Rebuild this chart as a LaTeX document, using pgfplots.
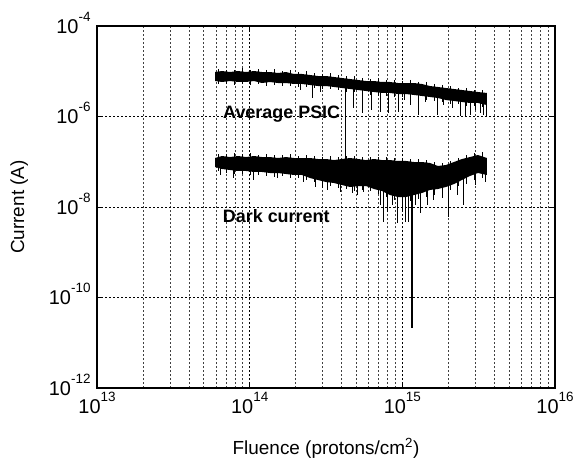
\documentclass[border=0pt]{standalone}
\usepackage{fontspec}
\setmainfont{Liberation Sans}
\usepackage{pgfplots}
\pgfplotsset{compat=1.18}

% power-of-ten tick label with a hyphen minus, set in the text font
\newcommand{\tl}[1]{10\raisebox{0.6em}{\fontsize{13.5}{13.5}\selectfont #1}}

\begin{document}
\begin{tikzpicture}
\begin{loglogaxis}[
    width=458bp, height=362bp, scale only axis,
    xmin=1e13, xmax=1e16, ymin=1e-12, ymax=1e-4,
    xtick={1e13,1e14,1e15,1e16},
    xticklabels={\tl{13},\tl{14},\tl{15},\tl{16}},
    minor xtick={2e13,3e13,4e13,5e13,6e13,7e13,8e13,9e13,
                 2e14,3e14,4e14,5e14,6e14,7e14,8e14,9e14,
                 2e15,3e15,4e15,5e15,6e15,7e15,8e15,9e15},
    ytick={1e-12,1e-10,1e-8,1e-6,1e-4},
    yticklabels={\tl{-12},\tl{-10},\tl{-8},\tl{-6},\tl{-4}},
    minor ytick={},
    grid=both, yminorgrids=false,
    major grid style={black, line width=0.6bp, dash pattern=on 2.2bp off 1.8bp},
    minor grid style={black!75, line width=0.6bp, dash pattern=on 2.2bp off 1.8bp},
    axis line style={line width=1.4bp},
    tick style={black, line width=0.8bp},
    major tick length=5bp, minor tick length=0bp,
    ticklabel style={font=\fontsize{20}{22}\selectfont},
    xticklabel style={yshift=-1bp},
    yticklabel style={anchor=base east, yshift=-7bp, xshift=-3bp},
    xlabel={Fluence (protons/cm\textsuperscript{2})},
    ylabel={Current (A)},
    label style={font=\fontsize{19}{22}\selectfont},
    xlabel style={at={(axis description cs:0.5,-0.1823)}, anchor=base},
    ylabel style={at={(axis description cs:-0.1594,0.5)}, anchor=base},
    unbounded coords=jump,
]

% Average PSIC: core of the noise band (upper edge, then lower edge)
\addplot[draw=none, fill=black] coordinates {
(5.93e13,9.62e-6) (6.59e13,1.013e-5) (7.43e13,9.62e-6) (8.38e13,1.013e-5)
(9.46e13,9.62e-6) (1.067e14,1.013e-5) (1.204e14,9.62e-6) (1.358e14,9.62e-6)
(1.532e14,9.15e-6) (1.729e14,9.62e-6) (1.951e14,8.70e-6) (2.200e14,8.70e-6)
(2.483e14,8.26e-6) (2.801e14,7.85e-6) (3.160e14,7.85e-6) (3.566e14,7.46e-6)
(4.023e14,7.09e-6) (4.538e14,6.74e-6) (5.120e14,6.41e-6) (5.777e14,6.09e-6)
(6.517e14,6.09e-6) (7.354e14,5.79e-6) (8.296e14,5.79e-6) (9.359e14,5.50e-6)
(1.056e15,5.50e-6) (1.191e15,5.50e-6) (1.344e15,5.23e-6) (1.516e15,4.72e-6)
(1.711e15,4.49e-6) (1.930e15,4.26e-6) (2.178e15,4.05e-6) (2.457e15,3.85e-6)
(2.772e15,3.66e-6) (3.127e15,3.48e-6) (3.581e15,3.31e-6)
(3.581e15,1.79e-6) (3.127e15,1.99e-6) (2.772e15,1.99e-6) (2.457e15,2.09e-6)
(2.178e15,2.20e-6) (1.930e15,2.31e-6) (1.711e15,2.56e-6) (1.516e15,2.70e-6)
(1.344e15,2.84e-6) (1.191e15,2.99e-6) (1.056e15,3.14e-6) (9.359e14,3.14e-6)
(8.296e14,3.31e-6) (7.354e14,3.31e-6) (6.517e14,3.48e-6) (5.777e14,3.66e-6)
(5.120e14,3.85e-6) (4.538e14,4.05e-6) (4.023e14,4.26e-6) (3.566e14,4.49e-6)
(3.160e14,4.72e-6) (2.801e14,4.72e-6) (2.483e14,4.97e-6) (2.200e14,5.23e-6)
(1.951e14,5.23e-6) (1.729e14,5.50e-6) (1.532e14,5.50e-6) (1.358e14,5.79e-6)
(1.204e14,5.50e-6) (1.067e14,6.09e-6) (9.46e13,5.79e-6) (8.38e13,5.79e-6)
(7.43e13,6.09e-6) (6.59e13,5.79e-6) (5.93e13,6.09e-6)
} -- cycle;

% Average PSIC: scatter of single readings about the band
\addplot[black, line width=0.5bp] coordinates {
(6.20e13,1.12e-5) (6.20e13,5.23e-6) (6.20e13,nan)
(7.00e13,1.066e-5) (7.00e13,5.23e-6) (7.00e13,nan)
(7.90e13,1.066e-5) (7.90e13,4.97e-6) (7.90e13,nan)
(8.91e13,1.18e-5) (8.91e13,5.23e-6) (8.91e13,nan)
(1.005e14,1.066e-5) (1.005e14,4.97e-6) (1.005e14,nan)
(1.134e14,1.12e-5) (1.134e14,5.23e-6) (1.134e14,nan)
(1.279e14,1.066e-5) (1.279e14,4.72e-6) (1.279e14,nan)
(1.443e14,1.12e-5) (1.443e14,4.97e-6) (1.443e14,nan)
(1.628e14,1.013e-5) (1.628e14,4.72e-6) (1.628e14,nan)
(1.836e14,1.066e-5) (1.836e14,4.72e-6) (1.836e14,nan)
(2.072e14,9.62e-6) (2.072e14,4.49e-6) (2.072e14,nan)
(2.337e14,1.013e-5) (2.337e14,4.49e-6) (2.337e14,nan)
(2.637e14,9.15e-6) (2.637e14,4.26e-6) (2.637e14,nan)
(2.975e14,8.70e-6) (2.975e14,4.05e-6) (2.975e14,nan)
(3.357e14,9.15e-6) (3.357e14,4.05e-6) (3.357e14,nan)
(3.787e14,8.26e-6) (3.787e14,3.85e-6) (3.787e14,nan)
(4.272e14,7.85e-6) (4.272e14,3.48e-6) (4.272e14,nan)
(4.820e14,7.85e-6) (4.820e14,3.48e-6) (4.820e14,nan)
(5.438e14,7.09e-6) (5.438e14,3.31e-6) (5.438e14,nan)
(6.135e14,6.74e-6) (6.135e14,2.99e-6) (6.135e14,nan)
(6.922e14,7.09e-6) (6.922e14,2.84e-6) (6.922e14,nan)
(7.809e14,6.41e-6) (7.809e14,2.84e-6) (7.809e14,nan)
(8.810e14,6.41e-6) (8.810e14,2.70e-6) (8.810e14,nan)
(9.94e14,6.09e-6) (9.94e14,2.70e-6) (9.94e14,nan)
(1.121e15,6.41e-6) (1.121e15,2.56e-6) (1.121e15,nan)
(1.265e15,5.79e-6) (1.265e15,2.44e-6) (1.265e15,nan)
(1.427e15,5.79e-6) (1.427e15,2.31e-6) (1.427e15,nan)
(1.610e15,5.23e-6) (1.610e15,2.20e-6) (1.610e15,nan)
(1.817e15,4.97e-6) (1.817e15,2.09e-6) (1.817e15,nan)
(2.050e15,4.72e-6) (2.050e15,1.89e-6) (2.050e15,nan)
(2.313e15,4.26e-6) (2.313e15,1.89e-6) (2.313e15,nan)
(2.609e15,4.26e-6) (2.609e15,1.71e-6) (2.609e15,nan)
(2.944e15,3.85e-6) (2.944e15,1.71e-6) (2.944e15,nan)
(3.321e15,3.85e-6) (3.321e15,1.62e-6)
};

% Average PSIC: downward dropouts
\addplot[black, line width=0.7bp] coordinates {
(2.135e14,6.5e-6) (2.135e14,3.85e-6) (2.135e14,nan)
(2.559e14,6.5e-6) (2.559e14,2.56e-6) (2.559e14,nan)
(2.887e14,6.5e-6) (2.887e14,3.48e-6) (2.887e14,nan)
(4.253e14,6.0e-6) (4.253e14,1.04e-7) (4.253e14,nan)
(4.748e14,5.5e-6) (4.748e14,1.54e-6) (4.748e14,nan)
(5.438e14,5.5e-6) (5.438e14,1.20e-6) (5.438e14,nan)
(6.229e14,5.5e-6) (6.229e14,1.39e-6) (6.229e14,nan)
(7.135e14,5.0e-6) (7.135e14,1.26e-6) (7.135e14,nan)
(8.049e14,5.0e-6) (8.049e14,1.20e-6) (8.049e14,nan)
(9.359e14,5.0e-6) (9.359e14,1.26e-6) (9.359e14,nan)
(1.024e15,4.5e-6) (1.024e15,2.31e-6) (1.024e15,nan)
(1.121e15,4.5e-6) (1.121e15,1.79e-6) (1.121e15,nan)
(1.265e15,4.5e-6) (1.265e15,1.08e-6) (1.265e15,nan)
(1.406e15,4.5e-6) (1.406e15,2.09e-6) (1.406e15,nan)
(1.685e15,4.0e-6) (1.685e15,1.08e-6) (1.685e15,nan)
(1.845e15,4.0e-6) (1.845e15,1.79e-6) (1.845e15,nan)
(2.113e15,3.8e-6) (2.113e15,1.54e-6) (2.113e15,nan)
(2.384e15,3.6e-6) (2.384e15,1.03e-6) (2.384e15,nan)
(2.570e15,3.6e-6) (2.570e15,1.03e-6) (2.570e15,nan)
(2.772e15,3.5e-6) (2.772e15,1.08e-6) (2.772e15,nan)
(2.988e15,3.4e-6) (2.988e15,1.39e-6) (2.988e15,nan)
(3.223e15,3.3e-6) (3.223e15,1.20e-6) (3.223e15,nan)
(3.372e15,3.2e-6) (3.372e15,1.08e-6) (3.372e15,nan)
(3.528e15,3.1e-6) (3.528e15,1.03e-6)
};

% Dark current: core of the noise band
\addplot[draw=none, fill=black] coordinates {
(5.93e13,1.21e-7) (6.59e13,1.34e-7) (7.43e13,1.27e-7) (8.38e13,1.34e-7)
(9.46e13,1.27e-7) (1.067e14,1.34e-7) (1.204e14,1.27e-7) (1.358e14,1.27e-7)
(1.532e14,1.21e-7) (1.729e14,1.27e-7) (1.951e14,1.21e-7) (2.200e14,1.21e-7)
(2.483e14,1.21e-7) (2.801e14,1.15e-7) (3.160e14,1.15e-7) (3.566e14,1.09e-7)
(4.023e14,1.15e-7) (4.538e14,1.21e-7) (5.120e14,1.15e-7) (5.777e14,1.09e-7)
(6.517e14,1.15e-7) (7.354e14,1.09e-7) (8.296e14,1.09e-7) (9.359e14,1.04e-7)
(1.056e15,1.04e-7) (1.191e15,9.87e-8) (1.344e15,9.87e-8) (1.516e15,9.38e-8)
(1.711e15,8.06e-8) (1.930e15,8.48e-8) (2.178e15,9.87e-8) (2.457e15,1.15e-7)
(2.772e15,1.27e-7) (3.127e15,1.41e-7) (3.581e15,1.21e-7)
(3.581e15,5.10e-8) (3.127e15,5.64e-8) (2.772e15,4.84e-8) (2.457e15,3.95e-8)
(2.178e15,3.22e-8) (1.930e15,2.77e-8) (1.711e15,2.50e-8) (1.516e15,2.38e-8)
(1.344e15,2.04e-8) (1.191e15,1.84e-8) (1.056e15,1.66e-8) (9.359e14,1.66e-8)
(8.296e14,1.84e-8) (7.354e14,2.26e-8) (6.517e14,2.50e-8) (5.777e14,2.91e-8)
(5.120e14,2.91e-8) (4.538e14,2.77e-8) (4.023e14,3.06e-8) (3.566e14,3.39e-8)
(3.160e14,3.57e-8) (2.801e14,3.95e-8) (2.483e14,4.37e-8) (2.200e14,5.10e-8)
(1.951e14,5.10e-8) (1.729e14,5.36e-8) (1.532e14,5.64e-8) (1.358e14,5.64e-8)
(1.204e14,5.94e-8) (1.067e14,5.94e-8) (9.46e13,6.25e-8) (8.38e13,6.25e-8)
(7.43e13,6.57e-8) (6.59e13,6.92e-8) (5.93e13,7.66e-8)
} -- cycle;

% Dark current: scatter of single readings about the band
\addplot[black, line width=0.5bp] coordinates {
(6.20e13,1.48e-7) (6.20e13,6.25e-8) (6.20e13,nan)
(7.00e13,1.48e-7) (7.00e13,5.64e-8) (7.00e13,nan)
(7.90e13,1.56e-7) (7.90e13,5.36e-8) (7.90e13,nan)
(8.91e13,1.48e-7) (8.91e13,5.36e-8) (8.91e13,nan)
(1.005e14,1.56e-7) (1.005e14,5.10e-8) (1.005e14,nan)
(1.134e14,1.41e-7) (1.134e14,5.10e-8) (1.134e14,nan)
(1.279e14,1.48e-7) (1.279e14,4.84e-8) (1.279e14,nan)
(1.443e14,1.41e-7) (1.443e14,4.60e-8) (1.443e14,nan)
(1.628e14,1.41e-7) (1.628e14,4.84e-8) (1.628e14,nan)
(1.836e14,1.48e-7) (1.836e14,4.37e-8) (1.836e14,nan)
(2.072e14,1.34e-7) (2.072e14,4.37e-8) (2.072e14,nan)
(2.337e14,1.41e-7) (2.337e14,3.95e-8) (2.337e14,nan)
(2.637e14,1.34e-7) (2.637e14,3.57e-8) (2.637e14,nan)
(2.975e14,1.27e-7) (2.975e14,3.06e-8) (2.975e14,nan)
(3.357e14,1.34e-7) (3.357e14,2.91e-8) (3.357e14,nan)
(3.787e14,1.27e-7) (3.787e14,2.63e-8) (3.787e14,nan)
(4.272e14,1.34e-7) (4.272e14,2.50e-8) (4.272e14,nan)
(4.820e14,1.34e-7) (4.820e14,2.26e-8) (4.820e14,nan)
(5.438e14,1.27e-7) (5.438e14,2.38e-8) (5.438e14,nan)
(6.135e14,1.27e-7) (6.135e14,2.26e-8) (6.135e14,nan)
(6.922e14,1.27e-7) (6.922e14,1.94e-8) (6.922e14,nan)
(7.809e14,1.27e-7) (7.809e14,1.66e-8) (7.809e14,nan)
(8.810e14,1.21e-7) (8.810e14,1.43e-8) (8.810e14,nan)
(9.94e14,1.21e-7) (9.94e14,1.29e-8) (9.94e14,nan)
(1.121e15,1.15e-7) (1.121e15,1.36e-8) (1.121e15,nan)
(1.265e15,1.15e-7) (1.265e15,1.50e-8) (1.265e15,nan)
(1.427e15,1.09e-7) (1.427e15,1.66e-8) (1.427e15,nan)
(1.610e15,9.87e-8) (1.610e15,1.84e-8) (1.610e15,nan)
(1.817e15,9.38e-8) (1.817e15,2.04e-8) (1.817e15,nan)
(2.050e15,1.04e-7) (2.050e15,2.38e-8) (2.050e15,nan)
(2.313e15,1.21e-7) (2.313e15,2.91e-8) (2.313e15,nan)
(2.609e15,1.41e-7) (2.609e15,3.22e-8) (2.609e15,nan)
(2.944e15,1.56e-7) (2.944e15,3.95e-8) (2.944e15,nan)
(3.321e15,1.64e-7) (3.321e15,4.37e-8)
};

% Dark current: downward dropouts
\addplot[black, line width=0.7bp] coordinates {
(6.39e13,8e-8) (6.39e13,5.10e-8) (6.39e13,nan)
(7.77e13,8e-8) (7.77e13,4.37e-8) (7.77e13,nan)
(1.051e14,8e-8) (1.051e14,3.95e-8) (1.051e14,nan)
(1.510e14,8e-8) (1.510e14,4.37e-8) (1.510e14,nan)
(2.234e14,8e-8) (2.234e14,3.57e-8) (2.234e14,nan)
(2.677e14,8e-8) (2.677e14,2.77e-8) (2.677e14,nan)
(2.975e14,8e-8) (2.975e14,2.63e-8) (2.975e14,nan)
(3.208e14,8e-8) (3.208e14,2.38e-8) (3.208e14,nan)
(3.903e14,8e-8) (3.903e14,2.15e-8) (3.903e14,nan)
(4.677e14,8e-8) (4.677e14,2.04e-8) (4.677e14,nan)
(5.043e14,8e-8) (5.043e14,1.84e-8) (5.043e14,nan)
(5.521e14,8e-8) (5.521e14,2.15e-8) (5.521e14,nan)
(7.135e14,8e-8) (7.135e14,1.11e-8) (7.135e14,nan)
(7.464e14,8e-8) (7.464e14,4.66e-9) (7.464e14,nan)
(7.928e14,8e-8) (7.928e14,7.76e-9) (7.928e14,nan)
(8.549e14,8e-8) (8.549e14,1.11e-8) (8.549e14,nan)
(9.219e14,8e-8) (9.219e14,4.43e-9) (9.219e14,nan)
(9.94e14,8e-8) (9.94e14,8.59e-9) (9.94e14,nan)
(1.040e15,8e-8) (1.040e15,4.66e-9) (1.040e15,nan)
(1.088e15,8e-8) (1.088e15,4.66e-9) (1.088e15,nan)
(1.209e15,8e-8) (1.209e15,1.11e-8) (1.209e15,nan)
(1.304e15,8e-8) (1.304e15,7.37e-9) (1.304e15,nan)
(1.449e15,8e-8) (1.449e15,1.11e-8) (1.449e15,nan)
(1.586e15,8e-8) (1.586e15,1.43e-8) (1.586e15,nan)
(1.817e15,8e-8) (1.817e15,1.58e-8) (1.817e15,nan)
(1.989e15,8e-8) (1.989e15,6.01e-9) (1.989e15,nan)
(2.278e15,8e-8) (2.278e15,1.84e-8) (2.278e15,nan)
(2.494e15,8e-8) (2.494e15,1.11e-8) (2.494e15,nan)
(2.988e15,8e-8) (2.988e15,3.06e-8) (2.988e15,nan)
(3.474e15,8e-8) (3.474e15,3.57e-8)
};
% the deepest dropout
\addplot[black, line width=1.1bp] coordinates {(1.156e15,8e-8) (1.156e15,2.12e-11)};

\node[anchor=base west, inner sep=0, font=\fontsize{18}{22}\selectfont\bfseries]
    at (axis cs:6.69e13,9.26e-7) {Average PSIC};
\node[anchor=base west, inner sep=0, font=\fontsize{18}{22}\selectfont\bfseries]
    at (axis cs:6.66e13,4.50e-9) {Dark current};
\end{loglogaxis}
\pgfresetboundingbox
\path ([xshift=-97bp,yshift=-70bp]current axis.south west)
    rectangle ([xshift=22bp,yshift=26bp]current axis.north east);
\end{tikzpicture}
\end{document}
